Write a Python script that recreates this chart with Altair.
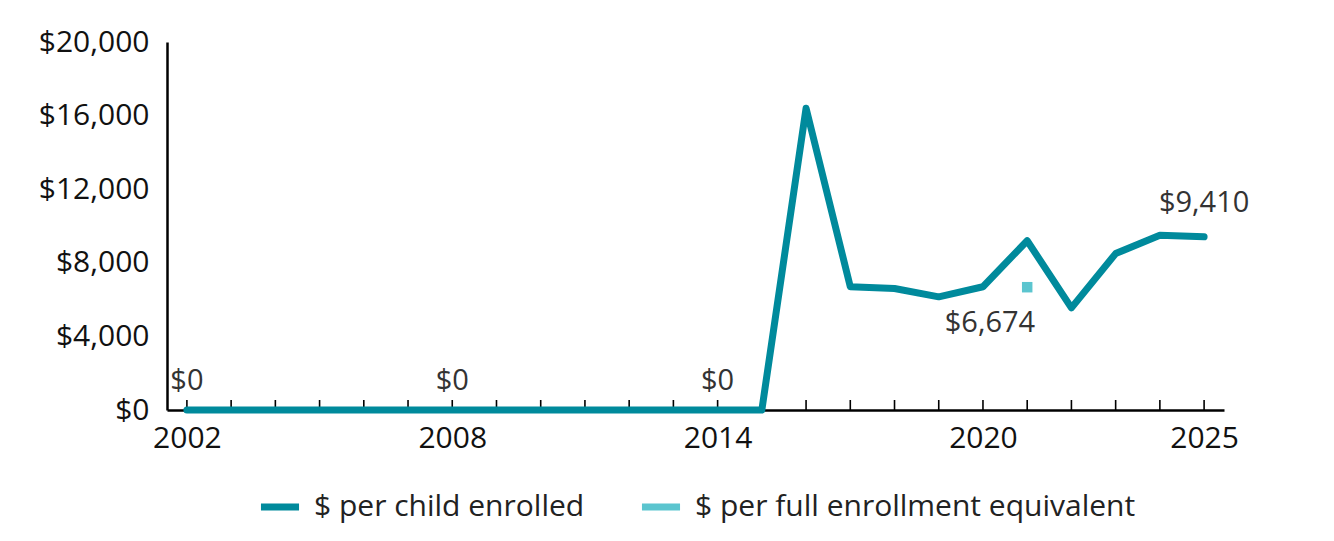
import altair as alt
import pandas as pd

# ---- data ----
years = [2002, 2003, 2004, 2005, 2006, 2007, 2008, 2009, 2010, 2011, 2012, 2013,
         2014, 2015, 2016, 2017, 2018, 2019, 2020, 2021, 2022, 2023, 2024, 2025]
per_child = [0, 0, 0, 0, 0, 0, 0, 0, 0, 0, 0, 0,
             0, 0, 16400, 6700, 6600, 6150, 6700, 9200, 5550, 8500, 9500, 9410]
fte_years = [2021]
fte_values = [6674]
series_names = ["$ per child enrolled", "$ per full enrollment equivalent"]
series_colors = ["#008A9C", "#5BC5CF"]
tick_label_years = [2002, 2008, 2014, 2020, 2025]
y_ticks = [0, 4000, 8000, 12000, 16000, 20000]
zero_label_years = [2002, 2008, 2014]
zero_label_values = [0, 0, 0]
zero_label_texts = ["$0", "$0", "$0"]
fte_label_texts = ["$6,674"]
end_label_years = [2025]
end_label_values = [9410]
end_label_texts = ["$9,410"]

line_df = pd.DataFrame({"year": years, "value": per_child, "series": series_names[0]})
fte_df = pd.DataFrame({"year": fte_years, "value": fte_values, "label": fte_label_texts})
tick_df = pd.DataFrame({"year": years})
zero_df = pd.DataFrame({"year": zero_label_years, "value": zero_label_values, "label": zero_label_texts})
end_df = pd.DataFrame({"year": end_label_years, "value": end_label_values, "label": end_label_texts})

W, H = 1057, 368
FONT = "Open Sans"
AX = 30
LB = 29
LG = 30

xscale = alt.Scale(domain=[2001.55, 2025.45], nice=False, zero=False)
yscale = alt.Scale(domain=[0, 20000], nice=False)

label_expr = "indexof([" + ",".join(str(v) for v in tick_label_years) + "], datum.value) >= 0 ? datum.label : ''"

x_axis = alt.Axis(values=years, labelExpr=label_expr, format="d", ticks=False,
                  domainColor="#000000", domainWidth=2.5, labelFontSize=AX,
                  labelPadding=13, labelColor="#111111", grid=False, title=None,
                  labelFlush=False, labelFont=FONT)
y_axis = alt.Axis(values=y_ticks, format="$,.0f", ticks=False,
                  domainColor="#000000", domainWidth=2.5, labelFontSize=AX,
                  labelPadding=18, labelColor="#111111", grid=False, title=None,
                  labelFont=FONT)

def X():
    return alt.X("year:Q", scale=xscale, axis=x_axis)

def Y():
    return alt.Y("value:Q", scale=yscale, axis=y_axis)

ticks = alt.Chart(tick_df).mark_rule(color="#000000", strokeWidth=1.6).encode(
    x=X(), y=alt.value(H), y2=alt.value(H - 10)
)

line = alt.Chart(line_df).mark_line(strokeWidth=7, strokeJoin="round", strokeCap="round").encode(
    x=X(), y=Y(),
    color=alt.Color("series:N",
                    scale=alt.Scale(domain=series_names, range=series_colors),
                    legend=alt.Legend(orient="none", legendX=90, legendY=442,
                                      direction="horizontal", title=None,
                                      symbolType="stroke", symbolStrokeWidth=7,
                                      symbolSize=1450, labelFontSize=LG,
                                      labelFont=FONT, labelColor="#222222",
                                      labelOffset=11, columnPadding=42,
                                      labelLimit=700))
)

fte_pt = alt.Chart(fte_df).mark_square(size=110, opacity=1, color=series_colors[1]).encode(
    x=X(), y=Y()
)

zero_txt = alt.Chart(zero_df).mark_text(fontSize=LB, font=FONT, color="#333333",
                                        baseline="middle", dy=-29).encode(
    x=X(), y=Y(), text="label:N"
)

fte_txt = alt.Chart(fte_df).mark_text(fontSize=LB, font=FONT, color="#333333",
                                      baseline="middle", align="right", dx=8, dy=36).encode(
    x=X(), y=Y(), text="label:N"
)

end_txt = alt.Chart(end_df).mark_text(fontSize=LB, font=FONT, color="#333333",
                                      baseline="middle", dy=-34).encode(
    x=X(), y=Y(), text="label:N"
)

chart = alt.layer(ticks, line, fte_pt, zero_txt, fte_txt, end_txt).properties(
    width=W, height=H,
    autosize=alt.AutoSizeParams(type="none"),
    padding={"left": 159, "top": 34, "right": 102, "bottom": 123},
).configure(font=FONT).configure_view(stroke=None)

chart.save("out.html", embed_options={"renderer": "svg", "actions": False})
